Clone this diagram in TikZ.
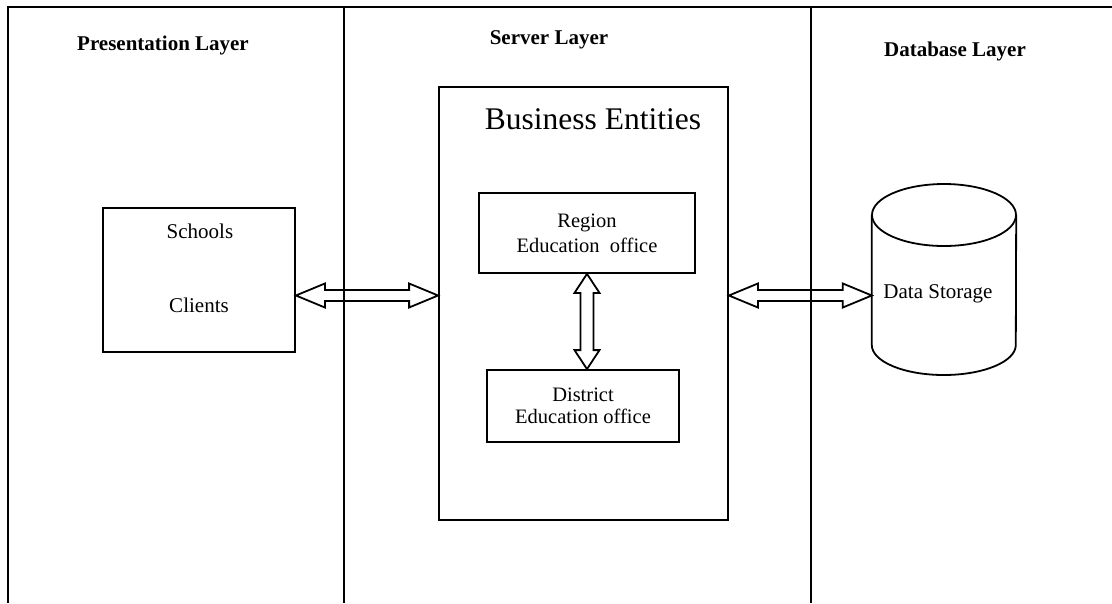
\documentclass[tikz,border=0pt]{standalone}
\usepackage{fontspec}
\setmainfont{Liberation Serif}
\usetikzlibrary{calc}

\tikzset{
  frame/.style={line width=1.8pt},
  box/.style={draw, line width=1.8pt, inner sep=0pt},
  heading/.style={font=\fontsize{21}{24}\selectfont\bfseries, anchor=base, inner sep=0pt},
  label/.style={font=\fontsize{21}{23}\selectfont, anchor=base, inner sep=0pt},
  hollow/.style={draw, line width=1.8pt, line join=miter},
}

% hollow horizontal double arrow between two tips
\newcommand\hdoublearrow[2]{%
  \draw[hollow] (#1) -- ++(29pt,12pt) -- ++(0pt,-6.5pt)
    -- ($(#2)+(-29pt,5.5pt)$) -- ++(0pt,6.5pt) -- (#2)
    -- ++(-29pt,-12pt) -- ++(0pt,6.5pt)
    -- ($(#1)+(29pt,-5.5pt)$) -- ++(0pt,-6.5pt) -- cycle;}
% hollow vertical double arrow between two tips (top, bottom)
\newcommand\vdoublearrow[2]{%
  \draw[hollow] (#1) -- ++(12.5pt,-19pt) -- ++(-6pt,0pt)
    -- ($(#2)+(6.5pt,19pt)$) -- ++(6pt,0pt) -- (#2)
    -- ++(-12.5pt,19pt) -- ++(6pt,0pt)
    -- ($(#1)+(-6.5pt,-19pt)$) -- ++(-6pt,0pt) -- cycle;}

\begin{document}
\begin{tikzpicture}[x=1pt, y=-1pt]
\useasboundingbox (0,0) rectangle (1112,603);

% layer frame
\draw[frame] (1112,7) -- (8,7) -- (8,603);
\draw[frame] (344,7) -- (344,603);
\draw[frame] (811,7) -- (811,603);

% layer headings
\node[heading] (hpres) at (163,50) {Presentation Layer};
\node[heading] (hserv) at (549,44) {Server Layer};
\node[heading] (hdb)   at (955,56) {Database Layer};

% presentation layer
\node[box, minimum width=192pt, minimum height=144pt] (sc) at (199,280) {};
\node[label] (tsch) at (200,238) {Schools};
\node[label] (tcli) at (199,312) {Clients};

% server layer
\node[box, minimum width=289pt, minimum height=433pt] (be) at (583.5,303.5) {};
\node[label, font=\fontsize{31.5}{34}\selectfont] (tbe) at (593,129) {Business Entities};
\node[box, minimum width=216pt, minimum height=80pt,
      align=center, font=\fontsize{20.5}{25}\selectfont] (reg) at (587,233)
      {Region\\Education\ \ office};
\node[box, minimum width=192pt, minimum height=72pt,
      align=center, font=\fontsize{20.5}{22}\selectfont] (dis) at (583,406)
      {District\\Education office};

% database layer
\node[inner sep=0pt, minimum width=144pt, minimum height=192pt] (db) at (944,279) {};
\draw[frame] (db.west |- 0,215) -- (db.west |- 0,345)
  arc[start angle=180, end angle=360, x radius=72pt, y radius=30pt]
  -- (db.east |- 0,215);
\draw[frame] (944,215) ellipse[x radius=72pt, y radius=31pt];
\node[label] (tds) at (938,298) {Data Storage};

% connectors
\coordinate (row) at (0,295.5);
\hdoublearrow{sc.east |- row}{be.west |- row}
\hdoublearrow{be.east |- row}{db.west |- row}
\vdoublearrow{reg.south}{reg.south |- dis.north}
\end{tikzpicture}
\end{document}
